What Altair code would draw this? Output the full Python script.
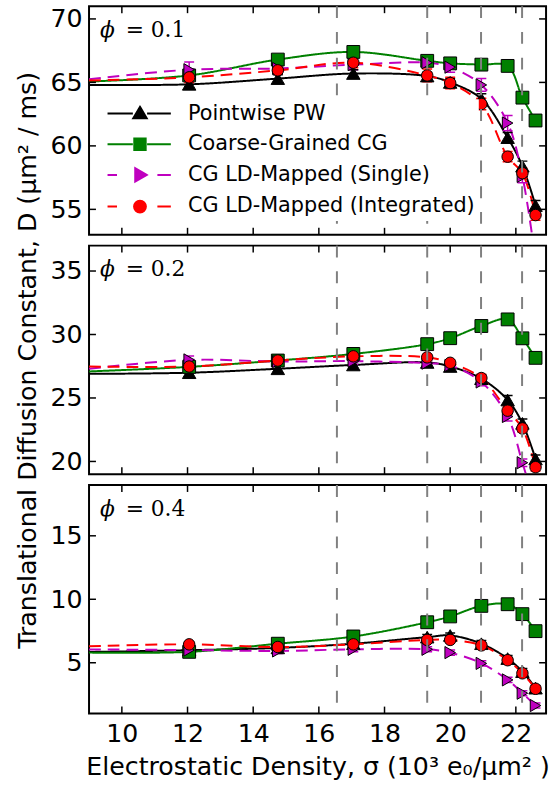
import altair as alt
import pandas as pd

# ---------------- data ----------------
SERIES = ["Pointwise PW", "Coarse-Grained CG", "CG LD-Mapped (Single)", "CG LD-Mapped (Integrated)"]
COLORS = ["#000000", "#008000", "#bf00bf", "#ff0000"]
SHAPES = ["triangle-up", "square", "triangle-right", "circle"]
SIZES = [185, 135, 185, 150]
DASHES = [[1, 0], [1, 0], [12, 7], [12, 7]]

SIGMA = [12.05, 14.75, 17.05, 19.3, 20.0, 20.95, 21.75, 22.2, 22.6]
SIGMA_EDGE = 9.0
VLINES = [16.55, 19.3, 20.94, 22.19]
X_TICKS = [10, 12, 14, 16, 18, 20, 22]
X_DOMAIN = [9, 22.92]

PANEL_SYMBOL = "ϕ"
PANEL_VALUES = ["= 0.1", "= 0.2", "= 0.4"]
Y_DOMAINS = [[53, 71], [19, 37], [1, 19]]
Y_TICKS = [[55, 60, 65, 70], [20, 25, 30, 35], [5, 10, 15]]

# phi = 0.1
P1_EDGE = [64.8, 65.07, 65.25, 65.15]
P1_PW = [64.85, 65.3, 65.7, 65.5, 65.0, 63.7, 60.65, 58.4, 55.3]
P1_CG = [65.55, 66.8, 67.4, 66.7, 66.5, 66.4, 66.3, 63.8, 62.0]
P1_SINGLE = [66.0, 66.1, 66.4, 66.55, 66.2, 64.8, 61.8, 57.6, 51.0]
P1_INTEG = [65.4, 65.95, 66.55, 65.55, 64.95, 63.3, 59.15, 57.85, 54.55]
P1_ERR_PW = [0.3, 0.3, 0.3, 0.3, 0.3, 0.4, 0.4, 0.4, 0.4]
P1_ERR_CG = [0.2, 0.2, 0.2, 0.2, 0.2, 0.2, 0.2, 0.2, 0.2]
P1_ERR_SINGLE = [0.6, 0.4, 0.4, 0.3, 0.4, 0.5, 0.6, 0.5, 0.5]
P1_ERR_INTEG = [0.4, 0.3, 0.4, 0.5, 0.45, 0.45, 0.4, 0.4, 0.4]

# phi = 0.2
P2_EDGE = [26.9, 27.09, 27.3, 27.48]
P2_PW = [26.99, 27.3, 27.6, 27.8, 27.48, 26.52, 24.84, 23.0, 20.2]
P2_CG = [27.45, 27.95, 28.47, 29.24, 29.71, 30.67, 31.19, 29.7, 28.16]
P2_SINGLE = [28.0, 27.87, 27.9, 27.74, 27.56, 26.26, 23.54, 19.9, 16.5]
P2_INTEG = [27.48, 27.95, 28.28, 28.2, 27.77, 26.57, 24.0, 22.6, 19.55]
P2_ERR_PW = [0.25, 0.25, 0.25, 0.25, 0.25, 0.3, 0.35, 0.35, 0.3]
P2_ERR_CG = [0.2, 0.2, 0.2, 0.2, 0.2, 0.2, 0.2, 0.2, 0.2]
P2_ERR_SINGLE = [0.3, 0.25, 0.25, 0.25, 0.25, 0.3, 0.35, 0.3, 0.3]
P2_ERR_INTEG = [0.25, 0.25, 0.25, 0.25, 0.25, 0.3, 0.3, 0.3, 0.3]

# phi = 0.4
P3_EDGE = [5.85, 5.8, 6.05, 6.3]
P3_PW = [5.99, 6.17, 6.5, 7.02, 7.15, 6.5, 5.33, 4.3, 3.0]
P3_CG = [5.86, 6.5, 7.07, 8.19, 8.65, 9.48, 9.61, 8.83, 7.49]
P3_SINGLE = [6.0, 5.93, 6.06, 6.06, 5.8, 4.95, 3.65, 2.6, 1.63]
P3_INTEG = [6.45, 6.24, 6.45, 6.8, 6.8, 6.37, 5.2, 4.17, 2.95]
P3_ERR_PW = [0.2, 0.2, 0.2, 0.2, 0.2, 0.25, 0.25, 0.25, 0.2]
P3_ERR_CG = [0.2, 0.2, 0.2, 0.2, 0.2, 0.3, 0.2, 0.2, 0.2]
P3_ERR_SINGLE = [0.2, 0.2, 0.2, 0.2, 0.2, 0.2, 0.2, 0.2, 0.2]
P3_ERR_INTEG = [0.2, 0.2, 0.2, 0.2, 0.2, 0.2, 0.2, 0.2, 0.2]

PANELS = [
    (P1_EDGE, [P1_PW, P1_CG, P1_SINGLE, P1_INTEG], [P1_ERR_PW, P1_ERR_CG, P1_ERR_SINGLE, P1_ERR_INTEG]),
    (P2_EDGE, [P2_PW, P2_CG, P2_SINGLE, P2_INTEG], [P2_ERR_PW, P2_ERR_CG, P2_ERR_SINGLE, P2_ERR_INTEG]),
    (P3_EDGE, [P3_PW, P3_CG, P3_SINGLE, P3_INTEG], [P3_ERR_PW, P3_ERR_CG, P3_ERR_SINGLE, P3_ERR_INTEG]),
]

# legend glyphs: line sample + marker (custom symbol paths, unit = 8 px)
LEGEND_PATHS = [
    "M-4.1,0L-0.9,0M0.9,0L3.9,0M0,-0.85L0.85,0.6L-0.85,0.6Z",
    "M-4.1,0L-0.9,0M0.9,0L3.9,0M-0.72,-0.72L0.72,-0.72L0.72,0.72L-0.72,0.72Z",
    "M-4.1,0L-2.9,0M2.2,0L3.9,0M0.85,0L-0.6,-0.85L-0.6,0.85Z",
    "M-4.1,0L-2.9,0M2.2,0L3.9,0M0.75,0A0.75,0.75 0 1,1 -0.75,0A0.75,0.75 0 1,1 0.75,0Z",
]

X_TITLE = "Electrostatic Density, σ (10³ e₀/μm² )"
Y_TITLE = "Translational Diffusion Constant, D (μm² / ms)"

W = 462
H = 231
FONT = "DejaVu Sans"
FS = 25.5


def build_frames(edges, vals, errs):
    line_rows, pt_rows = [], []
    for s, name in enumerate(SERIES):
        line_rows.append({"series": name, "x": SIGMA_EDGE, "y": edges[s]})
        for i, xv in enumerate(SIGMA):
            v = vals[s][i]
            e = errs[s][i]
            line_rows.append({"series": name, "x": xv, "y": v})
            pt_rows.append({"series": name, "x": xv, "y": v, "lo": v - e, "hi": v + e})
    return pd.DataFrame(line_rows), pd.DataFrame(pt_rows)


def make_panel(idx):
    edges, vals, errs = PANELS[idx]
    line_df, pt_df = build_frames(edges, vals, errs)
    bottom = idx == 2
    if bottom:
        xaxis = alt.Axis(values=X_TICKS, title=X_TITLE, labelPadding=8, titlePadding=8,
                         labelFlush=False)
    else:
        xaxis = None

    def xenc(f):
        return alt.X(f + ":Q", scale=alt.Scale(domain=X_DOMAIN, nice=False, zero=False), axis=xaxis)

    yaxis = alt.Axis(values=Y_TICKS[idx], title=(Y_TITLE if idx == 1 else None),
                     labelPadding=7, titlePadding=10)

    def yenc(f):
        return alt.Y(f + ":Q", scale=alt.Scale(domain=Y_DOMAINS[idx], nice=False, zero=False), axis=yaxis)

    color = alt.Color("series:N", scale=alt.Scale(domain=SERIES, range=COLORS), legend=None)

    lines = alt.Chart(line_df).mark_line(clip=True, interpolate="catmull-rom", strokeWidth=2).encode(
        x=xenc("x"), y=yenc("y"), color=color,
        strokeDash=alt.StrokeDash("series:N", scale=alt.Scale(domain=SERIES, range=DASHES), legend=None),
    )
    err = alt.Chart(pt_df).mark_rule(clip=True, strokeWidth=1.5).encode(
        x=xenc("x"), y=yenc("lo"), y2="hi", color=color)
    cap_lo = alt.Chart(pt_df).mark_tick(clip=True, orient="horizontal", size=10, thickness=1.5, opacity=1).encode(
        x=xenc("x"), y=yenc("lo"), color=color)
    cap_hi = alt.Chart(pt_df).mark_tick(clip=True, orient="horizontal", size=10, thickness=1.5, opacity=1).encode(
        x=xenc("x"), y=yenc("hi"), color=color)
    pts = alt.Chart(pt_df).mark_point(clip=True, filled=True, stroke="black", strokeWidth=1, opacity=1).encode(
        x=xenc("x"), y=yenc("y"), color=color,
        shape=alt.Shape("series:N", scale=alt.Scale(domain=SERIES, range=SHAPES), legend=None),
        size=alt.Size("series:N", scale=alt.Scale(domain=SERIES, range=SIZES), legend=None),
    )
    vl = alt.Chart(pd.DataFrame({"v": VLINES})).mark_rule(
        color="#808080", strokeWidth=2, strokeDash=[12, 14]).encode(x=xenc("v"))

    xt = pd.DataFrame({"v": X_TICKS})
    yt = pd.DataFrame({"v": Y_TICKS[idx]})
    tx_top = alt.Chart(xt).mark_rule(color="black", strokeWidth=1.5).encode(
        x=xenc("v"), y=alt.value(0), y2=alt.value(7))
    tx_bot = alt.Chart(xt).mark_rule(color="black", strokeWidth=1.5).encode(
        x=xenc("v"), y=alt.value(H - 7), y2=alt.value(H))
    ty_l = alt.Chart(yt).mark_rule(color="black", strokeWidth=1.5).encode(
        y=yenc("v"), x=alt.value(0), x2=alt.value(7))
    ty_r = alt.Chart(yt).mark_rule(color="black", strokeWidth=1.5).encode(
        y=yenc("v"), x=alt.value(W - 7), x2=alt.value(W))

    sym = alt.Chart(pd.DataFrame({"label": [PANEL_SYMBOL]})).mark_text(
        align="left", baseline="alphabetic", font="DejaVu Serif", fontSize=22, fontStyle="italic",
        color="black"
    ).encode(x=alt.value(11), y=alt.value(31), text="label:N")
    val = alt.Chart(pd.DataFrame({"label": [PANEL_VALUES[idx]]})).mark_text(
        align="left", baseline="alphabetic", font="DejaVu Serif", fontSize=22, color="black"
    ).encode(x=alt.value(37), y=alt.value(31), text="label:N")

    layers = [lines, err, cap_lo, cap_hi, pts, vl, tx_top, tx_bot, ty_l, ty_r, sym, val]

    if idx == 0:
        leg = alt.Legend(title=None, orient="none", legendX=37, legendY=94, padding=4,
                         rowPadding=9, symbolSize=256, symbolStrokeWidth=2, labelOffset=38,
                         labelFontSize=21, labelFont=FONT, labelColor="black", labelLimit=400,
                         fillColor="white", symbolOpacity=1)
        leg_df = pd.DataFrame({"item": SERIES})
        legend_layer = alt.Chart(leg_df).mark_point(filled=True, opacity=1).encode(
            color=alt.Color("item:N", scale=alt.Scale(domain=SERIES, range=COLORS), legend=leg),
            stroke=alt.Stroke("item:N", scale=alt.Scale(domain=SERIES, range=COLORS), legend=leg),
            shape=alt.Shape("item:N", scale=alt.Scale(domain=SERIES, range=LEGEND_PATHS), legend=leg),
        ).transform_filter("datum.item == 'none'")
        layers.append(legend_layer)

    ch = alt.layer(*layers).properties(width=W, height=H)
    if idx == 0:
        ch = ch.resolve_scale(color="independent", shape="independent", stroke="independent",
                              size="independent", strokeDash="independent")
    return ch


chart = alt.vconcat(make_panel(0), make_panel(1), make_panel(2), spacing=11, bounds="flush").resolve_scale(
    color="independent", shape="independent", stroke="independent",
    size="independent", strokeDash="independent",
).properties(
    padding={"left": 14, "top": 0, "right": 0, "bottom": 6},
    background="white",
).configure_view(
    stroke="black", strokeWidth=2,
).configure_axis(
    domain=False, ticks=False, grid=False,
    labelFont=FONT, labelFontSize=FS, labelColor="black",
    titleFont=FONT, titleFontSize=FS, titleFontWeight="normal", titleColor="black",
)

chart.save("out.html", embed_options={"renderer": "svg", "actions": False})
